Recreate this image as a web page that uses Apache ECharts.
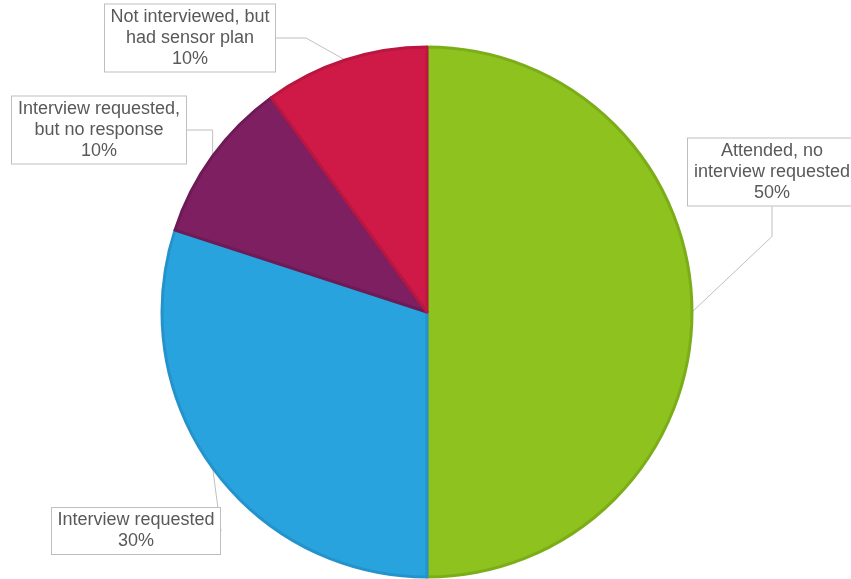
<!DOCTYPE html>
<html>
<head>
<meta charset="utf-8">
<script src="https://cdn.jsdelivr.net/npm/echarts@6/dist/echarts.min.js"></script>
<style>
  html, body { margin: 0; padding: 0; background: #fff; }
  #chart { width: 851px; height: 579px; }
</style>
</head>
<body>
<div id="chart"></div>
<script>
const categories = [
  'Attended, no\ninterview requested',
  'Interview requested',
  'Interview requested,\nbut no response',
  'Not interviewed, but\nhad sensor plan'
];
const values = [50, 30, 10, 10];
const colors = ['#8dc21f', '#29a3dd', '#7e1f62', '#cf1a48'];
const borders = ['#7cad19', '#2593cb', '#6d1a55', '#ba1740'];

// callout box centres and text widths (px)
const labelPos = [
  [772, 172],
  [136, 531],
  [99, 130],
  [190, 38]
];
const labelWidth = [158, 158, 164, 160];

const chart = echarts.init(document.getElementById('chart'));
chart.setOption({
  animation: false,
  series: [{
    type: 'pie',
    center: [427, 312],
    radius: 265,
    startAngle: 90,
    clockwise: true,
    data: categories.map((name, i) => ({
      name: name,
      value: values[i],
      itemStyle: { color: colors[i], borderColor: borders[i], borderWidth: 3 },
      label: { width: labelWidth[i] }
    })),
    label: {
      show: true,
      formatter: '{b}\n{d}%',
      color: '#595959',
      fontFamily: 'Liberation Sans, Arial, sans-serif',
      fontSize: 18,
      lineHeight: 21,
      align: 'center',
      overflow: 'none',
      backgroundColor: '#fff',
      borderColor: '#bfbfbf',
      borderWidth: 1,
      padding: [2, 5]
    },
    labelLine: {
      show: true,
      lineStyle: { color: '#bfbfbf', width: 1 }
    },
    labelLayout: function (params) {
      const p = labelPos[params.dataIndex];
      return { x: p[0], y: p[1], align: 'center', verticalAlign: 'middle', hideOverlap: false };
    }
  }]
});
</script>
</body>
</html>
